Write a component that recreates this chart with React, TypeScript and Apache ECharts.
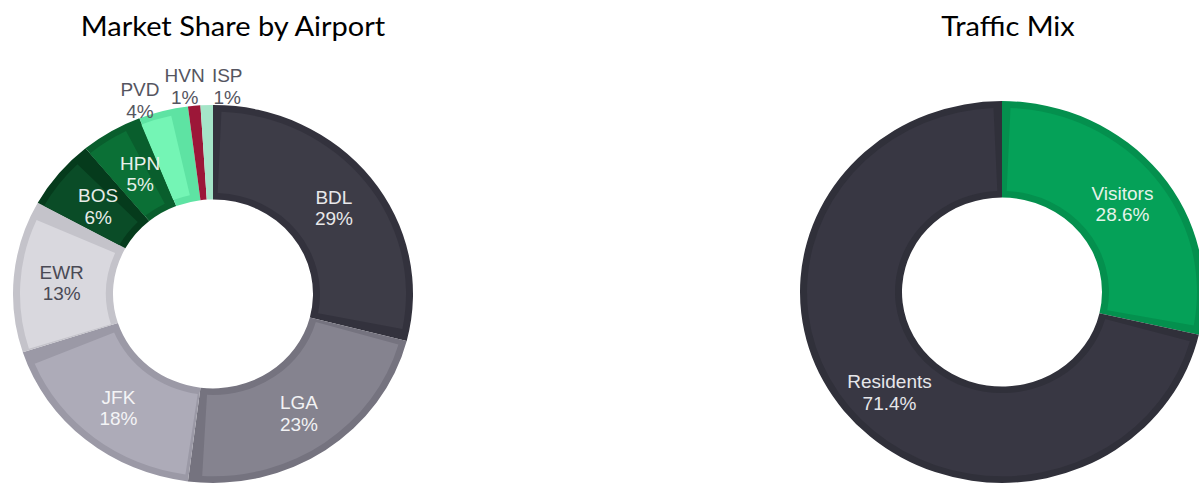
import React, { useEffect, useRef } from "react";
import * as echarts from "echarts";

// ---- Data ----
const airportNames = ["BDL", "LGA", "JFK", "EWR", "BOS", "HPN", "PVD", "HVN", "ISP"];
const airportShares = [29, 23, 18, 13, 6, 5, 4, 1, 1];
const mixNames = ["Visitors", "Residents"];
const mixShares = [28.6, 71.4];

// ---- Styles ----
const airportFill = ["#3d3c47", "#85838f", "#adabb8", "#d9d8de", "#0a4c27", "#0b7036", "#74f5b5", "#9c1738", "#a5e5c8"];
const airportEdge = ["#33323d", "#75737f", "#9b99a6", "#c4c3ca", "#053b1c", "#095e2d", "#5ee3a3", "#9c1738", "#a5e5c8"];
const airportLabelColor = ["#e8e8ea", "#f2f2f4", "#f4f4f6", "#4a4a55", "#e8ece9", "#e8f0ea", "#555560", "#555560", "#555560"];
const mixFill = ["#05a158", "#383743"];
const mixEdge = ["#04904e", "#30303a"];
const mixLabelColor = ["#e6f3ea", "#e6e6ea"];
const airportLabelShift: Record<number, [number, number]> = {
  0: [0, 3],
  1: [0, 0],
  2: [3, 3],
  3: [1, 3],
  4: [3, 5],
  5: [5, 5],
  6: [-35, -56],
  7: [-14, -67],
  8: [19, -66],
};
const mixLabelShift: Record<number, [number, number]> = {
  0: [0, 3],
  1: [8, 11],
};

const SQUISH = 0.945;
const FONT = "'Liberation Sans', Arial, sans-serif";
const TITLE_FONT = "normal 29px Lato, 'Open Sans', sans-serif";

function ringSeries(
  names: string[],
  values: number[],
  fill: string[],
  edge: string[],
  labelColor: string[],
  center: [number, number],
  r0: number,
  r1: number,
  inset: number,
  shifts: Record<number, [number, number]>
): any[] {
  const base = {
    type: "pie",
    center,
    startAngle: 90,
    clockwise: true,
    silent: true,
    avoidLabelOverlap: false,
    labelLine: { show: false },
    emphasis: { disabled: true },
  };
  return [
    {
      ...base,
      z: 1,
      radius: [r0, r1],
      label: { show: false },
      data: names.map((n, i) => ({ name: n, value: values[i], itemStyle: { color: edge[i] } })),
    },
    {
      ...base,
      z: 2,
      radius: [r0 + inset, r1 - inset],
      padAngle: 5,
      label: { show: false },
      data: names.map((n, i) => ({ name: n, value: values[i], itemStyle: { color: fill[i] } })),
    },
    {
      ...base,
      z: 3,
      radius: [r0, r1],
      itemStyle: { color: "rgba(0,0,0,0)" },
      label: {
        show: true,
        position: "inside",
        formatter: "{b}\n{c}%",
        fontFamily: FONT,
        fontSize: 19,
        lineHeight: 23,
        align: "center",
      },
      labelLayout: (params: any) => {
        const s = shifts[params.dataIndex];
        return s ? { dx: s[0], dy: s[1] } : {};
      },
      data: names.map((n, i) => ({
        name: n,
        value: values[i],
        label: { color: labelColor[i] },
      })),
    },
  ];
}

export default function App() {
  const ref = useRef<HTMLDivElement>(null);

  useEffect(() => {
    if (!ref.current) return;
    const chart = echarts.init(ref.current, undefined, { renderer: "svg" });
    chart.setOption({
      animation: false,
      backgroundColor: "#ffffff",
      graphic: [
        {
          type: "text",
          x: 233,
          y: 12,
          style: {
            text: "Market Share by Airport",
            font: TITLE_FONT,
            fill: "#000000",
            align: "center",
            verticalAlign: "top",
          },
        },
        {
          type: "text",
          x: 1008,
          y: 12,
          style: {
            text: "Traffic Mix",
            font: TITLE_FONT,
            fill: "#000000",
            align: "center",
            verticalAlign: "top",
          },
        },
      ],
      series: [
        ...ringSeries(airportNames, airportShares, airportFill, airportEdge, airportLabelColor, [213, 311], 100, 200, 7, airportLabelShift),
        ...ringSeries(mixNames, mixShares, mixFill, mixEdge, mixLabelColor, [1002, 309], 100, 202, 7, mixLabelShift),
      ],
    });
    return () => chart.dispose();
  }, []);

  return (
    <div
      ref={ref}
      style={{
        position: "fixed",
        left: 0,
        top: 0,
        width: 1199,
        height: Math.round(485 / SQUISH),
        transform: `scaleY(${SQUISH})`,
        transformOrigin: "0 0",
      }}
    />
  );
}
